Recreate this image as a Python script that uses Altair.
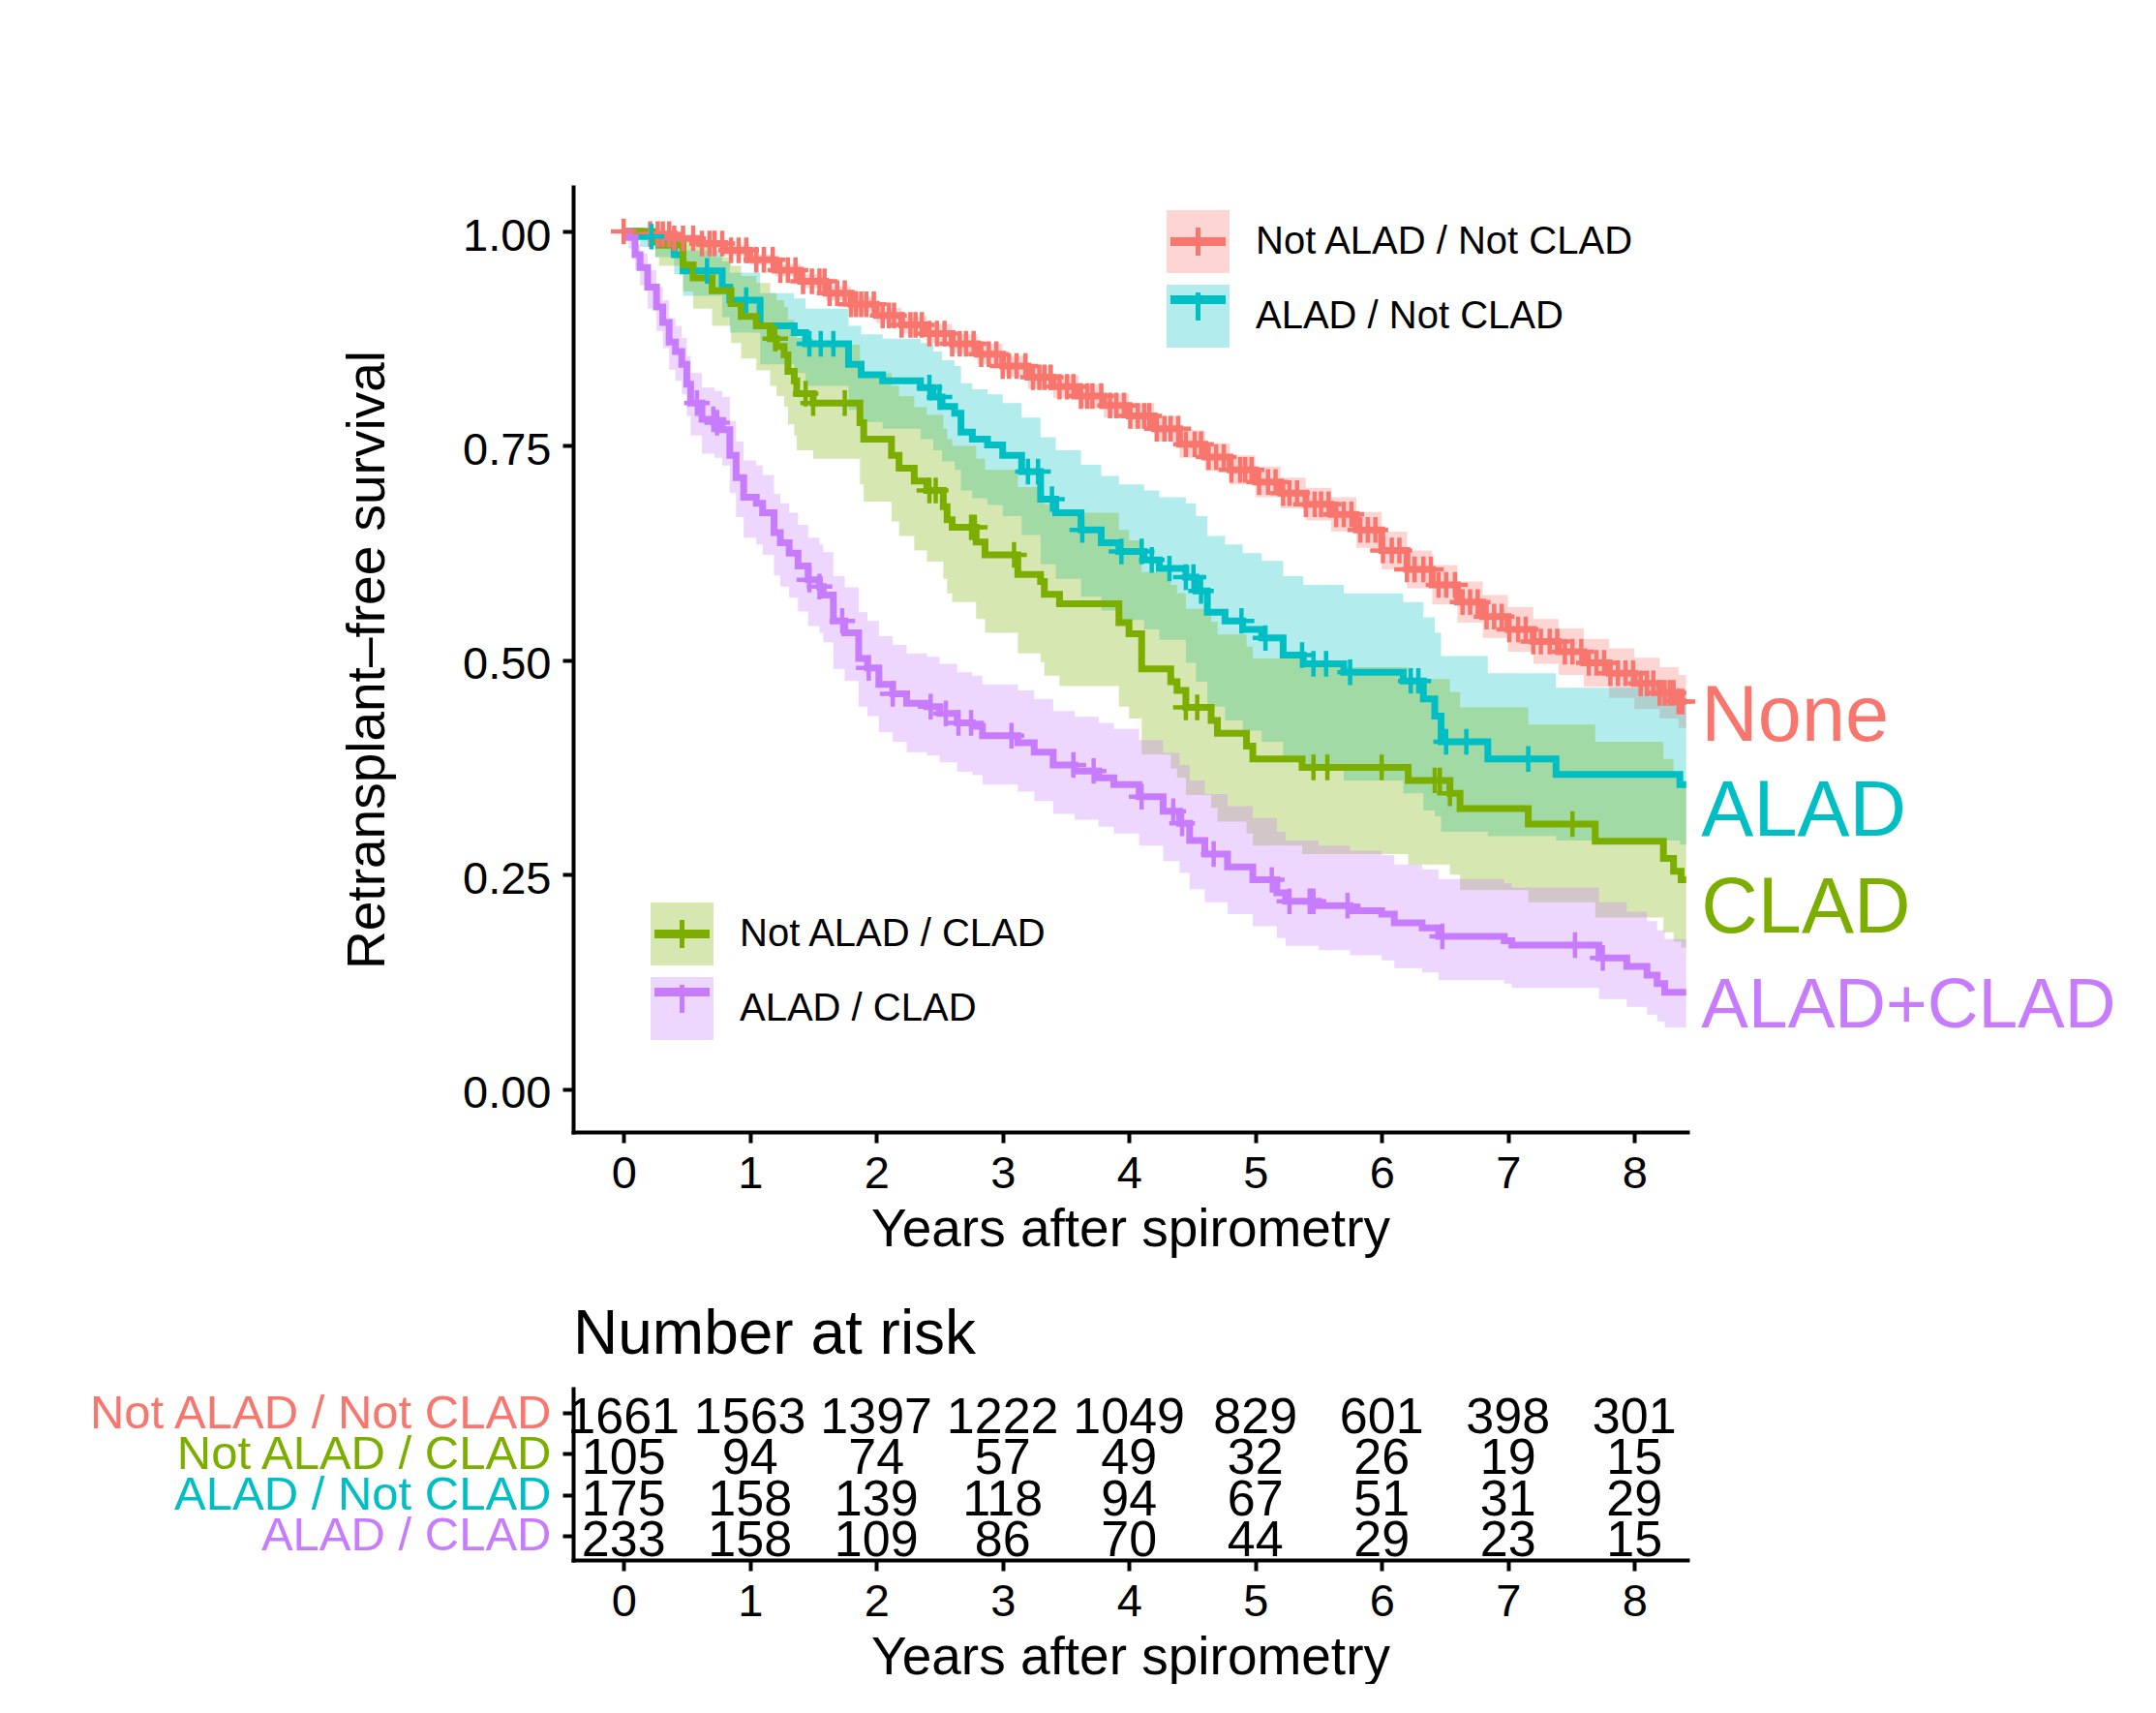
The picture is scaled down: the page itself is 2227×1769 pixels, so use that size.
import altair as alt
import pandas as pd

# ---------------------------------------------------------------------------
# Groups and palette
# ---------------------------------------------------------------------------
GROUPS = ["Not ALAD / Not CLAD", "Not ALAD / CLAD", "ALAD / Not CLAD", "ALAD / CLAD"]
COLORS = {
    "Not ALAD / Not CLAD": "#F8766D",
    "Not ALAD / CLAD": "#7CAE00",
    "ALAD / Not CLAD": "#00BFC4",
    "ALAD / CLAD": "#C77CFF",
}

# ---------------------------------------------------------------------------
# Kaplan-Meier estimates (step times, survival, 95% CI lower / upper)
# ---------------------------------------------------------------------------
t_none = [0, 0.2, 0.4, 0.6, 0.8, 1.0, 1.2, 1.4, 1.6, 1.8, 2.0, 2.2, 2.4, 2.6, 2.8,
          3.0, 3.2, 3.4, 3.6, 3.8, 4.0, 4.2, 4.4, 4.6, 4.8, 5.0, 5.2, 5.4, 5.6, 5.8,
          6.0, 6.2, 6.4, 6.6, 6.8, 7.0, 7.2, 7.4, 7.6, 7.8, 8.0, 8.2, 8.35]
s_none = [1.0, 0.997, 0.992, 0.986, 0.978, 0.967, 0.955, 0.942, 0.928, 0.915, 0.902,
          0.891, 0.881, 0.869, 0.857, 0.843, 0.830, 0.819, 0.808, 0.797, 0.785, 0.770,
          0.752, 0.737, 0.722, 0.708, 0.695, 0.682, 0.670, 0.652, 0.628, 0.606, 0.588,
          0.568, 0.551, 0.536, 0.522, 0.510, 0.497, 0.485, 0.473, 0.462, 0.452]
lo_none = [1.0, 0.994, 0.988, 0.981, 0.972, 0.961, 0.948, 0.934, 0.920, 0.906, 0.893,
           0.881, 0.870, 0.858, 0.845, 0.831, 0.817, 0.806, 0.794, 0.783, 0.770, 0.755,
           0.736, 0.721, 0.705, 0.690, 0.677, 0.663, 0.650, 0.631, 0.606, 0.584, 0.565,
           0.544, 0.526, 0.510, 0.496, 0.483, 0.469, 0.456, 0.443, 0.432, 0.421]
hi_none = [1.0, 0.999, 0.995, 0.990, 0.984, 0.973, 0.962, 0.950, 0.936, 0.924, 0.911,
           0.901, 0.892, 0.880, 0.869, 0.855, 0.843, 0.832, 0.822, 0.811, 0.800, 0.785,
           0.768, 0.753, 0.739, 0.726, 0.713, 0.701, 0.690, 0.673, 0.650, 0.628, 0.611,
           0.592, 0.576, 0.562, 0.548, 0.537, 0.525, 0.514, 0.503, 0.492, 0.483]

t_clad = [0, 0.25, 0.28, 0.47, 0.55, 0.70, 0.85, 0.93, 1.05, 1.16, 1.21, 1.27, 1.30,
          1.35, 1.37, 1.50, 1.87, 1.90, 2.12, 2.18, 2.30, 2.40, 2.53, 2.56, 2.60, 2.79,
          2.86, 3.12, 3.30, 3.33, 3.45, 3.92, 4.00, 4.10, 4.33, 4.38, 4.45, 4.65, 4.70,
          4.93, 4.98, 5.37, 6.21, 6.54, 6.62, 7.16, 7.69, 8.23, 8.31, 8.37]
s_clad = [1.0, 0.990, 0.984, 0.961, 0.946, 0.931, 0.916, 0.901, 0.890, 0.875, 0.866,
          0.856, 0.837, 0.826, 0.811, 0.800, 0.777, 0.758, 0.739, 0.724, 0.709, 0.698,
          0.679, 0.664, 0.655, 0.638, 0.623, 0.600, 0.592, 0.577, 0.566, 0.544, 0.531,
          0.490, 0.475, 0.465, 0.445, 0.430, 0.415, 0.400, 0.385, 0.375, 0.360, 0.345,
          0.327, 0.309, 0.289, 0.269, 0.254, 0.244]
lo_clad = [1.0, 0.970, 0.960, 0.930, 0.910, 0.890, 0.870, 0.852, 0.838, 0.820, 0.808,
           0.796, 0.775, 0.762, 0.745, 0.735, 0.705, 0.685, 0.662, 0.645, 0.628, 0.615,
           0.595, 0.578, 0.568, 0.548, 0.532, 0.508, 0.498, 0.482, 0.470, 0.446, 0.432,
           0.390, 0.374, 0.363, 0.343, 0.328, 0.312, 0.298, 0.284, 0.274, 0.262, 0.250,
           0.232, 0.218, 0.200, 0.183, 0.172, 0.165]
hi_clad = [1.0, 1.0, 1.0, 0.990, 0.982, 0.970, 0.960, 0.948, 0.940, 0.928, 0.920,
           0.912, 0.897, 0.888, 0.876, 0.868, 0.850, 0.835, 0.820, 0.808, 0.795, 0.786,
           0.770, 0.758, 0.750, 0.735, 0.722, 0.702, 0.695, 0.682, 0.672, 0.652, 0.640,
           0.603, 0.588, 0.578, 0.560, 0.545, 0.530, 0.516, 0.502, 0.492, 0.478, 0.463,
           0.445, 0.425, 0.405, 0.385, 0.368, 0.358]

t_alad = [0, 0.13, 0.25, 0.40, 0.47, 0.78, 0.84, 1.08, 1.35, 1.44, 1.78, 1.88, 2.05,
          2.35, 2.45, 2.52, 2.62, 2.67, 2.76, 2.88, 3.0, 3.15, 3.3, 3.42, 3.62, 3.78,
          3.92, 4.12, 4.24, 4.45, 4.53, 4.62, 4.76, 4.90, 5.05, 5.22, 5.38, 5.70, 6.17,
          6.33, 6.42, 6.47, 6.84, 7.38, 8.36]
s_alad = [1.0, 0.994, 0.988, 0.973, 0.954, 0.935, 0.920, 0.890, 0.882, 0.869, 0.845,
          0.833, 0.826, 0.818, 0.807, 0.796, 0.788, 0.766, 0.758, 0.751, 0.739, 0.720,
          0.688, 0.672, 0.652, 0.637, 0.627, 0.617, 0.607, 0.597, 0.581, 0.556, 0.546,
          0.536, 0.526, 0.506, 0.496, 0.486, 0.476, 0.455, 0.435, 0.405, 0.385, 0.367,
          0.355]
lo_alad = [1.0, 0.982, 0.970, 0.950, 0.925, 0.900, 0.882, 0.845, 0.835, 0.820, 0.792,
           0.778, 0.770, 0.758, 0.745, 0.732, 0.722, 0.698, 0.689, 0.681, 0.668, 0.646,
           0.612, 0.595, 0.574, 0.558, 0.547, 0.536, 0.524, 0.497, 0.475, 0.446, 0.430,
           0.418, 0.405, 0.385, 0.372, 0.360, 0.345, 0.325, 0.318, 0.300, 0.295, 0.290,
           0.285]
hi_alad = [1.0, 1.0, 0.998, 0.990, 0.978, 0.965, 0.952, 0.928, 0.922, 0.910, 0.890,
           0.880, 0.875, 0.870, 0.860, 0.850, 0.843, 0.823, 0.816, 0.810, 0.800, 0.783,
           0.760, 0.745, 0.728, 0.715, 0.705, 0.698, 0.690, 0.683, 0.668, 0.645, 0.635,
           0.625, 0.616, 0.598, 0.588, 0.578, 0.568, 0.550, 0.532, 0.505, 0.485, 0.468,
           0.462]

t_both = [0, 0.04, 0.09, 0.13, 0.19, 0.26, 0.31, 0.36, 0.41, 0.46,
          0.50, 0.53, 0.62, 0.72, 0.78, 0.84, 0.89, 0.95, 1.05, 1.10,
          1.19, 1.24, 1.31, 1.38, 1.46, 1.55, 1.58, 1.66, 1.75, 1.86,
          1.93, 2.02, 2.13, 2.24, 2.40, 2.50, 2.64, 2.76, 2.84, 3.12,
          3.25, 3.40, 3.57, 3.76, 3.88, 4.08, 4.27, 4.40, 4.48, 4.60,
          4.78, 4.98, 5.17, 5.24, 5.50, 5.75, 6.00, 6.10, 6.32, 6.45,
          6.97, 7.03, 7.72, 7.94, 8.10, 8.18, 8.24]
s_both = [1.0, 0.993, 0.973, 0.958, 0.935, 0.912, 0.894, 0.871, 0.860, 0.845,
          0.822, 0.800, 0.781, 0.777, 0.769, 0.739, 0.713, 0.690, 0.683, 0.672,
          0.649, 0.637, 0.625, 0.610, 0.594, 0.586, 0.576, 0.546, 0.532, 0.502,
          0.491, 0.472, 0.461, 0.450, 0.446, 0.438, 0.427, 0.423, 0.412, 0.404,
          0.393, 0.378, 0.371, 0.363, 0.355, 0.341, 0.324, 0.310, 0.290, 0.274,
          0.259, 0.244, 0.229, 0.219, 0.214, 0.208, 0.204, 0.194, 0.188, 0.178,
          0.173, 0.168, 0.153, 0.143, 0.133, 0.123, 0.113]
lo_both = [1.0, 0.980, 0.955, 0.937, 0.910, 0.884, 0.864, 0.839, 0.826, 0.810,
           0.785, 0.762, 0.741, 0.736, 0.727, 0.695, 0.667, 0.643, 0.635, 0.623,
           0.599, 0.586, 0.573, 0.557, 0.540, 0.532, 0.521, 0.490, 0.476, 0.446,
           0.435, 0.416, 0.405, 0.393, 0.389, 0.381, 0.370, 0.366, 0.355, 0.347,
           0.336, 0.321, 0.314, 0.306, 0.298, 0.284, 0.266, 0.252, 0.233, 0.218,
           0.204, 0.190, 0.176, 0.167, 0.162, 0.156, 0.150, 0.141, 0.136, 0.127,
           0.123, 0.118, 0.105, 0.096, 0.087, 0.079, 0.072]
hi_both = [1.0, 1.0, 0.985, 0.974, 0.955, 0.935, 0.920, 0.899, 0.890, 0.876,
           0.855, 0.835, 0.818, 0.814, 0.807, 0.779, 0.755, 0.733, 0.727, 0.716,
           0.694, 0.683, 0.672, 0.658, 0.643, 0.635, 0.626, 0.598, 0.585, 0.556,
           0.546, 0.528, 0.518, 0.508, 0.504, 0.496, 0.486, 0.482, 0.472, 0.465,
           0.455, 0.441, 0.434, 0.427, 0.420, 0.407, 0.392, 0.378, 0.360, 0.344,
           0.330, 0.316, 0.300, 0.290, 0.284, 0.278, 0.273, 0.262, 0.256, 0.245,
           0.240, 0.235, 0.218, 0.207, 0.196, 0.185, 0.175]

follow_up_end = 8.41

# Censoring times (+ marks)
cens_none = [0.0, 0.21, 0.27, 0.31, 0.36, 0.40, 0.47, 0.55, 0.62, 0.68, 0.72, 0.78,
             0.85, 0.91, 0.97, 1.05, 1.11, 1.18, 1.24, 1.30, 1.36, 1.42, 1.49, 1.55,
             1.59, 1.63, 1.69, 1.75, 1.80, 1.84, 1.88, 1.92, 1.98, 2.05, 2.10, 2.14,
             2.20, 2.27, 2.31, 2.36, 2.42, 2.48, 2.54, 2.60, 2.66, 2.71, 2.77, 2.83,
             2.89, 2.95, 3.00, 3.05, 3.11, 3.18, 3.24, 3.29, 3.33, 3.38, 3.45, 3.51,
             3.56, 3.62, 3.67, 3.71, 3.78, 3.85, 3.90, 3.96, 4.01, 4.07, 4.12, 4.16,
             4.22, 4.28, 4.33, 4.39, 4.45, 4.52, 4.57, 4.63, 4.69, 4.75, 4.81, 4.88,
             4.92, 4.97, 5.03, 5.10, 5.16, 5.22, 5.27, 5.33, 5.40, 5.47, 5.52, 5.58,
             5.64, 5.70, 5.76, 5.83, 5.89, 5.95, 6.01, 6.08, 6.14, 6.20, 6.26, 6.33,
             6.39, 6.45, 6.51, 6.58, 6.64, 6.70, 6.76, 6.83, 6.89, 6.95, 7.01, 7.08,
             7.14, 7.20, 7.26, 7.33, 7.39, 7.45, 7.51, 7.58, 7.64, 7.70, 7.76, 7.81,
             7.87, 7.93, 7.99, 8.05, 8.10, 8.15, 8.20, 8.24, 8.28, 8.31, 8.35, 8.38]
cens_alad = [0.22, 0.66, 0.97, 1.47, 1.56, 1.66, 2.42, 2.50, 3.20, 3.28, 3.39, 3.63,
             3.94, 4.10, 4.18, 4.32, 4.45, 4.51, 4.57, 4.89, 5.08, 5.37, 5.46, 5.56,
             5.75, 6.23, 6.29, 6.51, 6.67, 7.16]
cens_clad = [1.20, 1.44, 1.50, 1.75, 2.42, 2.47, 2.75, 2.78, 3.09, 4.45, 4.54, 5.46,
             5.57, 6.00, 6.42, 6.46, 6.54, 7.51]
cens_both = [0.58, 0.71, 0.74, 1.47, 1.55, 1.73, 1.94, 2.13, 2.43, 2.55, 2.65, 2.75,
             3.07, 3.56, 3.72, 4.10, 4.35, 4.42, 4.67, 5.13, 5.27, 5.43, 5.46, 5.73,
             6.48, 7.53, 7.75]

# Number at risk
risk_times = [0, 1, 2, 3, 4, 5, 6, 7, 8]
risk_none = [1661, 1563, 1397, 1222, 1049, 829, 601, 398, 301]
risk_clad = [105, 94, 74, 57, 49, 32, 26, 19, 15]
risk_alad = [175, 158, 139, 118, 94, 67, 51, 31, 29]
risk_both = [233, 158, 109, 86, 70, 44, 29, 23, 15]

# Curve-end annotations
end_labels = ["None", "ALAD", "CLAD", "ALAD+CLAD"]
end_label_groups = ["Not ALAD / Not CLAD", "ALAD / Not CLAD", "Not ALAD / CLAD", "ALAD / CLAD"]
end_label_y = [0.406, 0.296, 0.183, 0.072]
end_label_x = 8.53

# ---------------------------------------------------------------------------
# Tables
# ---------------------------------------------------------------------------
curves = {
    "Not ALAD / Not CLAD": (t_none, s_none, lo_none, hi_none, cens_none, risk_none),
    "Not ALAD / CLAD": (t_clad, s_clad, lo_clad, hi_clad, cens_clad, risk_clad),
    "ALAD / Not CLAD": (t_alad, s_alad, lo_alad, hi_alad, cens_alad, risk_alad),
    "ALAD / CLAD": (t_both, s_both, lo_both, hi_both, cens_both, risk_both),
}


def step_value(ts, ss, t):
    val = ss[0]
    for ti, si in zip(ts, ss):
        if ti <= t:
            val = si
    return val


curve_rows, cens_rows, risk_rows = [], [], []
for g, (ts, ss, lo, hi, cens, risk) in curves.items():
    for t, s, l, h in zip(ts, ss, lo, hi):
        curve_rows.append({"group": g, "t": t, "s": s, "lo": l, "hi": h})
    curve_rows.append({"group": g, "t": follow_up_end, "s": ss[-1], "lo": lo[-1], "hi": hi[-1]})
    for c in cens:
        cens_rows.append({"group": g, "t": c, "s": step_value(ts, ss, c)})
    for t, n in zip(risk_times, risk):
        risk_rows.append({"group": g, "t": t, "n": n})

curve_df = pd.DataFrame(curve_rows)
cens_df = pd.DataFrame(cens_rows)
risk_df = pd.DataFrame(risk_rows)
end_df = pd.DataFrame({"label": end_labels, "group": end_label_groups,
                       "y": end_label_y, "x": [end_label_x] * len(end_labels)})

# ---------------------------------------------------------------------------
# Shared scales / axes
# ---------------------------------------------------------------------------
W, H_MAIN, H_RISK = 1151, 976, 177
x_scale = alt.Scale(domain=[-0.4, 8.42], nice=False, zero=False)
y_scale = alt.Scale(domain=[-0.05, 1.052], nice=False, zero=False)

x_axis = alt.Axis(values=risk_times, title="Years after spirometry", labelPadding=9,
                  titlePadding=8, labelOverlap=False, labelFlush=False)
y_axis = alt.Axis(values=[0, 0.25, 0.5, 0.75, 1.0], format=".2f",
                  title="Retransplant\u2013free survival", labelPadding=12,
                  titlePadding=69, labelOffset=5, labelOverlap=False, labelFlush=False)

X = alt.X("t:Q", scale=x_scale, axis=x_axis)

BLOCK_TOP = ["Not ALAD / Not CLAD", "ALAD / Not CLAD"]
BLOCK_BOTTOM = ["Not ALAD / CLAD", "ALAD / CLAD"]
LEGEND_POS = {0: (613, 24), 1: (80, 739)}
KEY = 65


def legend(pos, symbol, stroke_w, show_labels, z, fill_key=False):
    lx, ly = pos
    sw = 0 if fill_key else stroke_w
    extra = {}
    if fill_key:
        extra["symbolOpacity"] = 0.3
    else:
        extra["symbolOpacity"] = 1
        extra["symbolFillColor"] = "transparent"
    return alt.Legend(
        title=None, orient="none", legendX=lx - sw / 2, legendY=ly - sw / 2,
        symbolType=symbol, symbolSize=KEY * KEY, symbolStrokeWidth=sw,
        labelFontSize=40, labelColor="black", labelOffset=27 - sw,
        labelOpacity=1 if show_labels else 0, rowPadding=12 - sw, padding=0,
        zindex=z, labelLimit=0, **extra,
    )


def block_layers(groups, idx):
    pos = LEGEND_POS[idx]
    rng = [COLORS[g] for g in groups]
    base = alt.Chart(curve_df).transform_filter(
        alt.FieldOneOfPredicate(field="group", oneOf=groups))
    band = base.mark_area(interpolate="step-after", opacity=0.3).encode(
        x=X,
        y=alt.Y("lo:Q", scale=y_scale, axis=y_axis),
        y2="hi:Q",
        fill=alt.Fill("group:N", scale=alt.Scale(domain=groups, range=rng),
                      legend=legend(pos, "square", 0, True, 1, fill_key=True)),
    )
    line = base.mark_line(interpolate="step-after", strokeWidth=7).encode(
        x=X,
        y=alt.Y("s:Q", scale=y_scale, axis=y_axis),
        stroke=alt.Stroke("group:N", scale=alt.Scale(domain=groups, range=rng),
                          legend=legend(pos, "M-0.877,0H0.877", 9, False, 2)),
    )
    marks = alt.Chart(cens_df).transform_filter(
        alt.FieldOneOfPredicate(field="group", oneOf=groups)
    ).mark_point(filled=False, size=700, strokeWidth=4.5, opacity=1).encode(
        x=X,
        y=alt.Y("s:Q", scale=y_scale, axis=y_axis),
        shape=alt.value("M-1,0H1M0,-1V1"),
        stroke=alt.Stroke("group:N", scale=alt.Scale(domain=groups, range=rng),
                          legend=legend(pos, "M0,-0.446V0.446", 5, False, 3)),
    )
    return band, line, marks


band_t, line_t, marks_t = block_layers(BLOCK_TOP, 0)
band_b, line_b, marks_b = block_layers(BLOCK_BOTTOM, 1)

label_color = alt.Color("group:N", scale=alt.Scale(domain=GROUPS, range=[COLORS[g] for g in GROUPS]),
                        legend=None)
end_text_big = alt.Chart(end_df).transform_filter(alt.datum.label != "ALAD+CLAD").mark_text(
    align="left", baseline="alphabetic", fontSize=81).encode(
    x=alt.X("x:Q", scale=x_scale, axis=x_axis),
    y=alt.Y("y:Q", scale=y_scale, axis=y_axis),
    text="label:N", color=label_color)
end_text_small = alt.Chart(end_df).transform_filter(alt.datum.label == "ALAD+CLAD").mark_text(
    align="left", baseline="alphabetic", fontSize=73).encode(
    x=alt.X("x:Q", scale=x_scale, axis=x_axis),
    y=alt.Y("y:Q", scale=y_scale, axis=y_axis),
    text="label:N", color=label_color)

main = alt.layer(
    band_t, band_b, line_t, line_b, marks_t, marks_b, end_text_big, end_text_small
).resolve_scale(
    fill="independent", stroke="independent", color="independent"
).resolve_legend(
    fill="independent", stroke="independent", color="independent"
).properties(width=W, height=H_MAIN)

# ---------------------------------------------------------------------------
# Risk table
# ---------------------------------------------------------------------------
label_color_rule = {
    "condition": [
        {"test": "datum.value === 'Not ALAD / Not CLAD'", "value": COLORS["Not ALAD / Not CLAD"]},
        {"test": "datum.value === 'Not ALAD / CLAD'", "value": COLORS["Not ALAD / CLAD"]},
        {"test": "datum.value === 'ALAD / Not CLAD'", "value": COLORS["ALAD / Not CLAD"]},
    ],
    "value": COLORS["ALAD / CLAD"],
}

risk = alt.Chart(risk_df).mark_text(fontSize=52, baseline="alphabetic", dy=21, color="black").encode(
    x=alt.X("t:Q", scale=x_scale, axis=x_axis),
    y=alt.Y("group:N", sort=GROUPS, scale=alt.Scale(type="point", padding=0.6),
            axis=alt.Axis(title=None, labelFontSize=49, labelPadding=12,
                          labelColor=label_color_rule, labelLimit=0)),
    text="n:Q",
).properties(
    width=W, height=H_RISK,
    title=alt.TitleParams("Number at risk", anchor="start", frame="group", fontSize=64,
                          fontWeight="normal", baseline="alphabetic", offset=-28,
                          color="black"),
)

chart = alt.vconcat(main, risk, spacing=265, bounds="flush").properties(
    padding={"left": 89, "top": 193, "right": 0, "bottom": 0},
    background="white",
).configure(
    font="Liberation Sans",
).configure_view(
    stroke=None,
).configure_axis(
    domainColor="black", domainWidth=4, domainCap="square",
    tickColor="black", tickWidth=4, tickSize=11,
    labelColor="black", titleColor="black",
    labelFontSize=47, titleFontSize=55, titleFontWeight="normal",
    grid=False,
)

chart.save("out.html", embed_options={"renderer": "svg", "actions": False})
